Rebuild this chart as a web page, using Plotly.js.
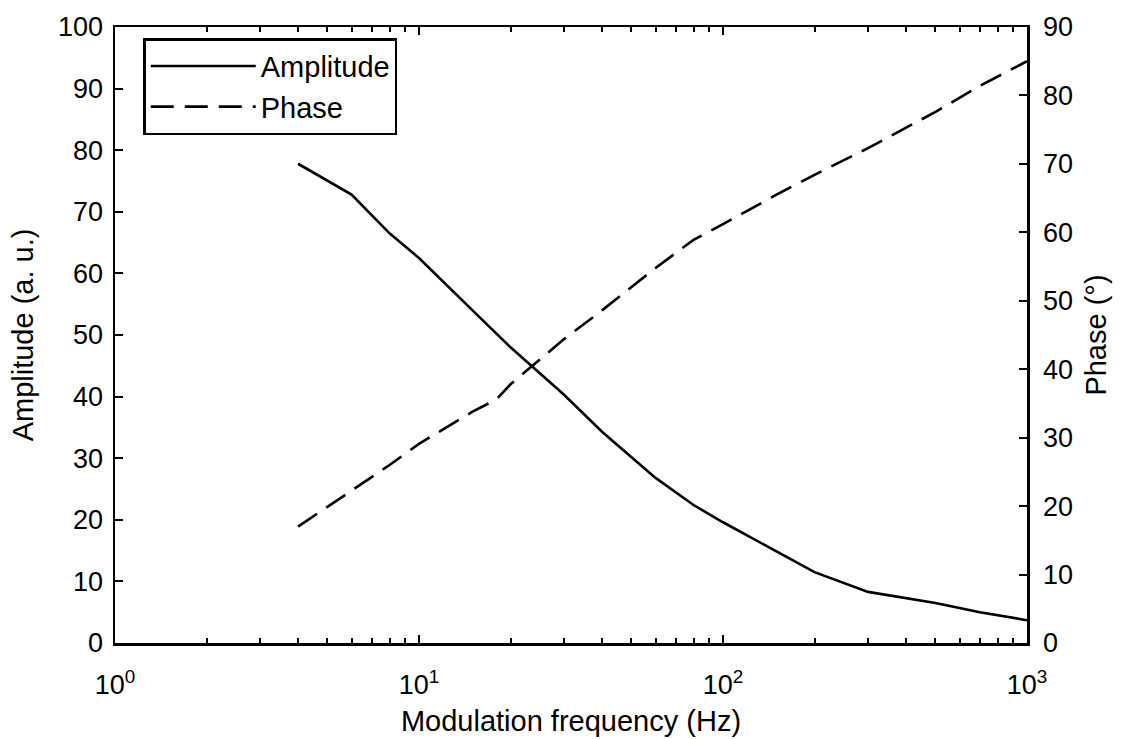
<!DOCTYPE html>
<html>
<head>
<meta charset="utf-8">
<script src="https://cdn.plot.ly/plotly-3.0.1.min.js"></script>
<style>html,body{margin:0;padding:0;background:#fff;}#chart{width:1128px;height:739px;}</style>
</head>
<body>
<div id="chart"></div>
<script>
// Modulation frequency (Hz)
const freq = [4, 6, 8, 10, 15, 18, 20, 30, 40, 60, 80, 100, 150, 200, 300, 500, 700, 1000];
// Amplitude (a. u.)
const amplitude = [77.8, 72.8, 66.5, 62.5, 54, 50.2, 48, 40.3, 34.3, 26.8, 22.4, 19.6, 14.8, 11.5, 8.3, 6.5, 5.0, 3.7];
// Phase (deg)
const phase = [17, 22.3, 26, 29.1, 33.8, 35.6, 37.8, 44.4, 48.6, 54.8, 58.9, 61.2, 65.5, 68.4, 72.3, 77.6, 81.4, 85];

const xTickVals = [1, 10, 100, 1000];
const xTickText = ['10<sup>0</sup>', '10<sup>1</sup>', '10<sup>2</sup>', '10<sup>3</sup>'];
const yTickVals = [0, 10, 20, 30, 40, 50, 60, 70, 80, 90, 100];
const y2TickVals = [0, 10, 20, 30, 40, 50, 60, 70, 80, 90];

const FONT = 'Liberation Sans, Arial, sans-serif';
const TICK = {family: FONT, size: 27, color: '#000'};
const TITLE = {family: FONT, size: 29, color: '#000'};

const traces = [
  {x: freq, y: amplitude, name: 'Amplitude', type: 'scatter', mode: 'lines',
   line: {color: '#000', width: 2.6}, yaxis: 'y'},
  {x: freq, y: phase, name: 'Phase', type: 'scatter', mode: 'lines',
   line: {color: '#000', width: 2.6, dash: '23px,11px'}, yaxis: 'y2'}
];

const layout = {
  width: 1128, height: 739,
  margin: {l: 115, r: 101, t: 27, b: 96},
  paper_bgcolor: '#fff', plot_bgcolor: '#fff',
  font: {family: FONT, size: 27, color: '#000'},
  showlegend: true,
  legend: {x: 0.031, y: 0.982, xanchor: 'left', yanchor: 'top',
           bordercolor: '#000', borderwidth: 2.5, bgcolor: '#fff',
           font: TITLE, itemwidth: 105, tracegroupgap: 0},
  xaxis: {type: 'log', range: [0, 3], tickvals: xTickVals, ticktext: xTickText,
          showline: true, linecolor: '#000', linewidth: 2.5, mirror: 'ticks',
          ticks: 'inside', ticklen: 8, tickwidth: 2, tickcolor: '#000',
          ticklabelstandoff: 16,
          showgrid: false, zeroline: false,
          minor: {dtick: 'D1', ticks: 'inside', ticklen: 5, tickwidth: 2, tickcolor: '#000', showgrid: false},
          tickfont: TICK,
          title: {text: 'Modulation frequency (Hz)', font: TITLE, standoff: 12}},
  yaxis: {range: [0, 100], tickvals: yTickVals,
          showline: true, linecolor: '#000', linewidth: 2.5,
          ticks: 'inside', ticklen: 8, tickwidth: 2, tickcolor: '#000',
          ticklabelstandoff: 4,
          showgrid: false, zeroline: false,
          tickfont: TICK,
          title: {text: 'Amplitude (a. u.)', font: TITLE, standoff: 16}},
  yaxis2: {range: [0, 90], tickvals: y2TickVals, overlaying: 'y', side: 'right',
           showline: true, linecolor: '#000', linewidth: 2.5,
           ticks: 'inside', ticklen: 8, tickwidth: 2, tickcolor: '#000',
           ticklabelstandoff: 8,
           showgrid: false, zeroline: false,
           tickfont: TICK,
           title: {text: 'Phase (°)', font: TITLE, standoff: 14}}
};

Plotly.newPlot('chart', traces, layout, {displayModeBar: false, staticPlot: true});
</script>
</body>
</html>
